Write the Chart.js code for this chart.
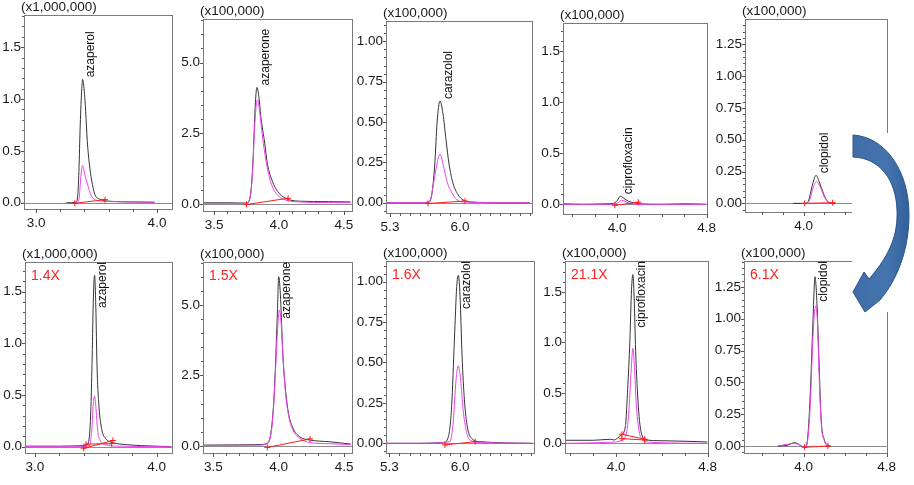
<!DOCTYPE html>
<html>
<head>
<meta charset="utf-8">
<script src="https://cdn.jsdelivr.net/npm/chart.js@4.4.0/dist/chart.umd.min.js"></script>
<style>
  html, body { margin: 0; padding: 0; background: #fff; }
  #wrap { position: relative; width: 914px; height: 485px; overflow: hidden; background: #fff; }
  #wrap canvas { position: absolute; }
  #arrow { position: absolute; left: 0; top: 0; }
</style>
</head>
<body>
<div id="wrap"></div>
<script>
// ---- chart data ----
const peakNames = ['azaperol', 'azaperone', 'carazolol', 'ciprofloxacin', 'clopidol'];
const foldTexts = ['1.4X', '1.5X', '1.6X', '21.1X', '6.1X'];
const scaleTexts = ['(x1,000,000)', '(x100,000)', '(x100,000)', '(x100,000)', '(x100,000)'];

// axis ranges, top row then bottom row
const xRanges = [[2.90, 4.124], [3.415, 4.562], [5.26, 6.72], [3.517, 4.8], [3.435, 4.8],
                 [2.918, 4.126], [3.421, 4.561], [5.267, 6.732], [3.552, 4.8], [3.426, 4.8]];
const yRanges = [[-0.06, 1.81], [-0.25, 6.54], [-0.064, 1.126], [-0.095, 1.777], [-0.068, 1.449],
                 [-0.061, 1.788], [-0.248, 6.52], [-0.06, 1.128], [-0.096, 1.805], [-0.055, 1.454]];
const xMajor = [[3.0, 4.0], [3.5, 4.0, 4.5], [5.3, 6.0], [4.0, 4.8], [4.0, 4.8]];
const yMajor = [[0, 0.5, 1.0, 1.5], [0, 2.5, 5.0], [0, 0.25, 0.5, 0.75, 1.0], [0, 0.5, 1.0, 1.5], [0, 0.25, 0.5, 0.75, 1.0, 1.25]];
const yDecimals = [1, 1, 2, 1, 2];
const xMinorStep = [0.2, 0.1, 0.1, 0.2, 0.2];
const yMinorStep = [0.1, 0.5, 0.05, 0.1, 0.05];

// before (top row)
const azaperolTopBlack = [[3.25,0],[3.33,0.005],[3.345,0.08],[3.354,0.3],[3.365,0.75],[3.378,1.1],[3.385,1.19],[3.395,1.12],[3.41,0.88],[3.423,0.6],[3.44,0.38],[3.459,0.22],[3.486,0.08],[3.527,0.035],[3.637,0.013],[3.8,0.008],[3.98,0.005]];
const azaperolTopPink = [[3.33,0],[3.345,0.01],[3.357,0.05],[3.368,0.22],[3.378,0.33],[3.385,0.36],[3.393,0.33],[3.405,0.26],[3.42,0.2],[3.44,0.12],[3.46,0.06],[3.5,0.025],[3.55,0.015],[3.7,0.01],[3.98,0.005]];
const azaperolTopRed = [[[3.32,-0.005],[3.57,0.03]]];

const azaperoneTopBlack = [[3.42,0.04],[3.6,0.04],[3.74,0.03],[3.76,0.05],[3.785,0.5],[3.80,1.55],[3.81,2.7],[3.82,3.7],[3.83,4.12],[3.845,3.8],[3.86,3.1],[3.89,2.15],[3.91,1.44],[3.95,0.79],[3.99,0.44],[4.05,0.2],[4.15,0.1],[4.38,0.08],[4.55,0.07]];
const azaperoneTopPink = [[3.42,0.02],[3.74,0.02],[3.76,0.03],[3.785,0.45],[3.80,1.4],[3.81,2.5],[3.825,3.5],[3.835,3.68],[3.85,3.3],[3.87,2.5],[3.89,1.8],[3.92,1.05],[3.95,0.6],[3.99,0.3],[4.05,0.14],[4.15,0.07],[4.38,0.05],[4.55,0.05]];
const azaperoneTopRed = [[[3.75,-0.02],[4.07,0.2]]];

const carazololTopBlack = [[5.27,0],[5.6,0],[5.68,0],[5.72,0.06],[5.75,0.26],[5.77,0.49],[5.80,0.63],[5.83,0.55],[5.86,0.39],[5.89,0.24],[5.93,0.12],[5.98,0.05],[6.03,0.017],[6.1,0.005],[6.4,0],[6.7,0]];
const carazololTopPink = [[5.27,0],[5.6,0],[5.70,0.01],[5.73,0.1],[5.77,0.24],[5.80,0.30],[5.83,0.24],[5.87,0.13],[5.92,0.06],[5.97,0.017],[6.03,0.005],[6.4,0],[6.7,0]];
const carazololTopRed = [[[5.68,-0.005],[6.05,0.01]]];

const ciprofloxacinTopBlack = [[3.52,0.005],[3.7,0.0],[3.9,0.005],[3.97,0.01],[4.0,0.035],[4.03,0.08],[4.06,0.06],[4.1,0.03],[4.15,0.015],[4.2,0.005],[4.4,0.0],[4.6,0.005],[4.8,0.0]];
const ciprofloxacinTopPink = [[3.52,0],[3.97,0],[4.01,0.015],[4.04,0.04],[4.07,0.03],[4.11,0.01],[4.2,0],[4.8,0]];
const ciprofloxacinTopRed = [[[3.98,-0.01],[4.19,0.02]]];

const clopidolTopBlack = [[3.9,0],[4.03,0],[4.05,0.026],[4.08,0.13],[4.12,0.22],[4.15,0.17],[4.19,0.08],[4.22,0.026],[4.25,0.005],[4.3,0]];
const clopidolTopPink = [[4.03,0],[4.06,0.03],[4.09,0.12],[4.125,0.17],[4.16,0.13],[4.2,0.05],[4.24,0.01],[4.27,0]];
const clopidolTopRed = [[[4.01,0],[4.28,0.005]]];

// after (bottom row)
const azaperolBottomBlack = [[2.92,0.005],[3.2,0.005],[3.40,0.01],[3.425,0.016],[3.447,0.1],[3.46,0.39],[3.47,0.87],[3.48,1.45],[3.49,1.66],[3.50,1.35],[3.51,0.77],[3.526,0.39],[3.55,0.16],[3.58,0.08],[3.64,0.04],[3.75,0.02],[4.0,0.005],[4.12,0.0]];
const azaperolBottomPink = [[2.92,0],[3.3,0],[3.45,0.01],[3.468,0.19],[3.48,0.42],[3.49,0.49],[3.50,0.39],[3.515,0.16],[3.534,0.065],[3.575,0.02],[3.7,0.005],[4.12,0]];
const azaperolBottomRed = [[[3.40,-0.015],[3.64,0.06]], [[3.42,0.025],[3.63,0.03]]];

const azaperoneBottomBlack = [[3.42,0.03],[3.7,0.04],[3.85,0.05],[3.913,0.1],[3.94,0.45],[3.96,1.4],[3.975,2.8],[3.99,4.7],[4.0,6.0],[4.015,5.2],[4.03,3.4],[4.05,2.1],[4.075,1.16],[4.11,0.63],[4.16,0.33],[4.24,0.21],[4.39,0.15],[4.55,0.07]];
const azaperoneBottomPink = [[3.42,0.02],[3.85,0.03],[3.91,0.08],[3.94,0.4],[3.96,1.3],[3.975,2.6],[3.99,4.0],[4.005,4.82],[4.02,4.3],[4.035,3.0],[4.05,2.0],[4.075,1.1],[4.11,0.55],[4.16,0.28],[4.24,0.12],[4.39,0.08],[4.55,0.05]];
const azaperoneBottomRed = [[[3.913,-0.05],[4.24,0.25]]];

const carazololBottomBlack = [[5.27,0],[5.6,0],[5.835,0.005],[5.884,0.04],[5.917,0.23],[5.944,0.64],[5.967,0.97],[5.983,1.04],[6.0,0.91],[6.02,0.54],[6.043,0.27],[6.073,0.1],[6.115,0.03],[6.2,0.01],[6.72,0]];
const carazololBottomPink = [[5.27,0],[5.6,0],[5.9,0.01],[5.934,0.145],[5.96,0.39],[5.983,0.48],[6.006,0.39],[6.03,0.21],[6.06,0.08],[6.1,0.02],[6.2,0.005],[6.72,0]];
const carazololBottomRed = [[[5.85,-0.01],[6.15,0.01]]];

const ciprofloxacinBottomBlack = [[3.56,0.03],[3.8,0.03],[3.95,0.04],[3.98,0.033],[4.04,0.08],[4.08,0.165],[4.10,0.53],[4.12,1.02],[4.134,1.52],[4.146,1.67],[4.157,1.45],[4.17,0.92],[4.194,0.36],[4.22,0.1],[4.266,0.033],[4.366,0.026],[4.62,0.02],[4.8,0.013]];
const ciprofloxacinBottomPink = [[3.56,0],[3.95,0.01],[4.05,0.03],[4.09,0.1],[4.11,0.3],[4.13,0.7],[4.146,0.94],[4.16,0.75],[4.175,0.4],[4.2,0.12],[4.23,0.04],[4.3,0.01],[4.8,0]];
const ciprofloxacinBottomRed = [[[4.05,0.09],[4.25,0.04]], [[4.05,0.046],[4.25,0.033]]];

const clopidolBottomBlack = [[3.75,0],[3.84,0.005],[3.915,0.026],[3.97,0.005],[4.01,-0.01],[4.04,0.07],[4.066,0.44],[4.09,0.97],[4.11,1.33],[4.13,1.1],[4.15,0.63],[4.17,0.2],[4.2,0.05],[4.235,0.005],[4.26,0]];
const clopidolBottomPink = [[3.75,0],[3.915,0.02],[3.97,0.005],[4.01,-0.01],[4.04,0.05],[4.066,0.35],[4.09,0.85],[4.116,1.10],[4.135,0.95],[4.15,0.55],[4.17,0.18],[4.2,0.04],[4.235,0]];
const clopidolBottomRed = [[[4.01,-0.01],[4.235,0.0]]];

const blackTraces = [azaperolTopBlack, azaperoneTopBlack, carazololTopBlack, ciprofloxacinTopBlack, clopidolTopBlack,
                     azaperolBottomBlack, azaperoneBottomBlack, carazololBottomBlack, ciprofloxacinBottomBlack, clopidolBottomBlack];
const pinkTraces = [azaperolTopPink, azaperoneTopPink, carazololTopPink, ciprofloxacinTopPink, clopidolTopPink,
                    azaperolBottomPink, azaperoneBottomPink, carazololBottomPink, ciprofloxacinBottomPink, clopidolBottomPink];
const redTraces = [azaperolTopRed, azaperoneTopRed, carazololTopRed, ciprofloxacinTopRed, clopidolTopRed,
                   azaperolBottomRed, azaperoneBottomRed, carazololBottomRed, ciprofloxacinBottomRed, clopidolBottomRed];

// ---- layout: plot boxes in page pixels [left, top, right, bottom] ----
const panelBoxes = [[24, 15, 172, 209], [203, 19, 352, 211], [386, 21, 532, 213], [563, 23, 710, 214], [745, 19, 890, 212],
                    [25, 262, 172, 453], [203, 262, 352, 453], [386, 261, 534, 453], [565, 261, 711, 453], [744, 261, 890, 453]];

const PAD_T = 20, PAD_R = 12, PAD_B = 26;
const FONT = '"Liberation Sans", Arial, sans-serif';

function tickMarks(ctx, scale, horiz, min, max, step, majors, area) {
    const first = Math.ceil((min - 1e-9) / step);
    const last = Math.floor((max + 1e-9) / step);
    ctx.beginPath();
    for (let n = first; n <= last; n++) {
        const v = n * step;
        const major = majors.some(m => Math.abs(m - v) < step / 10);
        const p = Math.round(scale.getPixelForValue(v)) + 0.5;
        if (horiz) {
            ctx.moveTo(p, area.bottom);
            ctx.lineTo(p, area.bottom + (major ? 4 : 3));
        } else {
            ctx.moveTo(area.left, p);
            ctx.lineTo(area.left - (major ? 3 : 2), p);
        }
    }
    ctx.stroke();
}

function makeDecor(i) {
    const k = i % 5;
    return {
        id: 'decor' + i,
        beforeDatasetsDraw(chart) {
            const { ctx, chartArea: a, scales: { y } } = chart;
            const y0 = Math.round(y.getPixelForValue(0)) + 0.5;
            ctx.save();
            ctx.strokeStyle = '#8c8c8c';
            ctx.lineWidth = 1;
            ctx.beginPath();
            ctx.moveTo(a.left - 3, y0);
            ctx.lineTo(a.right, y0);
            ctx.stroke();
            ctx.restore();
        },
        afterDatasetsDraw(chart) {
            const { ctx, chartArea: a, scales: { x, y } } = chart;
            ctx.save();
            // box
            ctx.strokeStyle = '#7a7a7a';
            ctx.lineWidth = 1;
            ctx.strokeRect(Math.round(a.left) + 0.5, Math.round(a.top) + 0.5,
                           Math.round(a.right - a.left), Math.round(a.bottom - a.top));
            // tick marks
            ctx.strokeStyle = '#555';
            tickMarks(ctx, x, true, x.min, x.max, xMinorStep[k], xMajor[k], a);
            tickMarks(ctx, y, false, y.min, y.max, yMinorStep[k], yMajor[k], a);
            // scale factor text
            ctx.fillStyle = '#1a1a1a';
            ctx.font = '13.5px ' + FONT;
            ctx.textAlign = 'left';
            ctx.textBaseline = 'alphabetic';
            ctx.fillText(scaleTexts[k], a.left - 3, a.top - 4);
            // fold change
            if (i >= 5) {
                ctx.fillStyle = '#ff2020';
                ctx.font = '14px ' + FONT;
                ctx.textBaseline = 'middle';
                ctx.fillText(foldTexts[k], a.left + 6, a.top + 14);
            }
            // peak label (rotated) above the tallest point of the black trace
            const tr = blackTraces[i];
            let best = tr[0];
            tr.forEach(p => { if (p[1] > best[1]) best = p; });
            ctx.font = '12px ' + FONT;
            ctx.fillStyle = '#111';
            const w = ctx.measureText(peakNames[k]).width;
            const px = x.getPixelForValue(best[0]) + 8.5;
            let bottom = y.getPixelForValue(best[1]) - 2;
            if (bottom - w < a.top) bottom = a.top + w;
            ctx.translate(px, bottom);
            ctx.rotate(-Math.PI / 2);
            ctx.textBaseline = 'middle';
            ctx.textAlign = 'left';
            ctx.fillText(peakNames[k], 0, 0);
            ctx.restore();
        }
    };
}

const wrap = document.getElementById('wrap');

for (let i = 0; i < 10; i++) {
    const k = i % 5;
    const [l, t, r, b] = panelBoxes[i];
    const padL = Math.min(40, l);   // keep every canvas inside the page
    const w = r - l + padL + PAD_R;
    const h = b - t + PAD_T + PAD_B;
    const cv = document.createElement('canvas');
    cv.width = w;
    cv.height = h;
    cv.style.left = (l - padL) + 'px';
    cv.style.top = (t - PAD_T) + 'px';
    cv.style.width = w + 'px';
    cv.style.height = h + 'px';
    wrap.appendChild(cv);

    const datasets = [];
    redTraces[i].forEach(seg => datasets.push({
        data: seg, borderColor: '#ff1a1a', borderWidth: 1,
        pointStyle: 'cross', pointRadius: 3, pointBorderColor: '#ff1a1a', pointBorderWidth: 1
    }));
    datasets.push({ data: pinkTraces[i], borderColor: '#f040f0', borderWidth: 1, pointRadius: 0, cubicInterpolationMode: 'monotone' });
    datasets.push({ data: blackTraces[i], borderColor: '#333333', borderWidth: 1, pointRadius: 0, cubicInterpolationMode: 'monotone' });

    new Chart(cv, {
        type: 'line',
        data: { datasets: datasets },
        options: {
            responsive: false,
            animation: false,
            events: [],
            layout: { padding: { top: PAD_T, right: PAD_R, left: 0, bottom: 0 } },
            plugins: { legend: { display: false }, tooltip: { enabled: false } },
            scales: {
                x: {
                    type: 'linear', min: xRanges[i][0], max: xRanges[i][1],
                    grid: { display: false, drawTicks: false }, border: { display: false },
                    afterBuildTicks: ax => { ax.ticks = xMajor[k].map(v => ({ value: v })); },
                    afterFit: ax => { ax.height = PAD_B; },
                    ticks: {
                        autoSkip: false, maxRotation: 0, padding: 6, color: '#1a1a1a',
                        font: { family: FONT, size: 13.5 },
                        callback: v => Number(v).toFixed(1)
                    }
                },
                y: {
                    type: 'linear', min: yRanges[i][0], max: yRanges[i][1],
                    grid: { display: false, drawTicks: false }, border: { display: false },
                    afterBuildTicks: ax => { ax.ticks = yMajor[k].map(v => ({ value: v })); },
                    afterFit: ax => { ax.width = padL; },
                    ticks: {
                        autoSkip: false, padding: 3, color: '#1a1a1a',
                        font: { family: FONT, size: 13.5 },
                        callback: v => Number(v).toFixed(yDecimals[k])
                    }
                }
            }
        },
        plugins: [makeDecor(i)]
    });
}

// curved blue arrow (decoration), with the white box it sits on
const svgNS = 'http://www.w3.org/2000/svg';
const svg = document.createElementNS(svgNS, 'svg');
svg.setAttribute('id', 'arrow');
svg.setAttribute('width', '914');
svg.setAttribute('height', '485');
svg.innerHTML =
    '<defs><linearGradient id="ag" x1="0" y1="0" x2="1" y2="0">' +
    '<stop offset="0" stop-color="#3f6da8"/><stop offset="0.6" stop-color="#4474ae"/><stop offset="1" stop-color="#33609a"/></linearGradient></defs>' +
    '<rect x="852" y="133" width="62" height="179" fill="#fff"/>' +
    '<path d="M 853 135 C 885 137, 909 170, 909 215 C 909 250, 897 280, 880 300 L 865 312 L 853 292 L 864 272 L 869 279 ' +
    'C 890 255, 898 235, 897 210 C 896 180, 880 158, 853 157 Z" fill="url(#ag)" stroke="#2c5487" stroke-width="1"/>';
wrap.appendChild(svg);
</script>
</body>
</html>
